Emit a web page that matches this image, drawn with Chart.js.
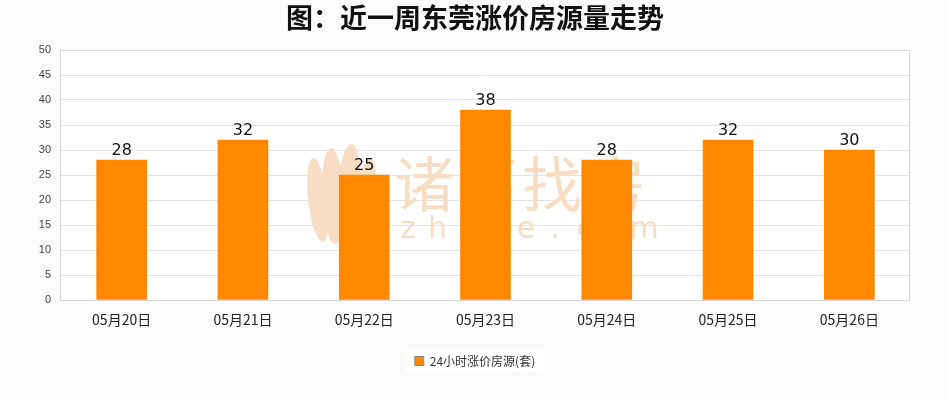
<!DOCTYPE html>
<html>
<head>
<meta charset="utf-8">
<script src="https://cdn.jsdelivr.net/npm/chart.js@4"></script>
<style>
  html, body { margin: 0; padding: 0; background: #fbfbfb; }
  #wrap { width: 950px; height: 400px; }
</style>
</head>
<body>
<div id="wrap"><canvas id="chart" width="950" height="400"></canvas></div>
<script>
const TITLE = '图：近一周东莞涨价房源量走势';
const SERIES_NAME = '24小时涨价房源(套)';
const categories = ['05月20日', '05月21日', '05月22日', '05月23日', '05月24日', '05月25日', '05月26日'];
const values = [28, 32, 25, 38, 28, 32, 30];
const yTicks = [0, 5, 10, 15, 20, 25, 30, 35, 40, 45, 50];

const CJK = '"Noto Sans CJK SC", "Noto Sans", sans-serif';
const MARK = 'rgb(249, 221, 195)';

// plot background, border, watermark and value labels
const plotFrame = {
  id: 'plotFrame',
  afterLayout(chart) {
    // centre legend and title on the whole canvas
    [chart.legend, chart.titleBlock].forEach(box => {
      const w = box.right - box.left;
      box.left = (chart.width - w) / 2;
      box.right = box.left + w;
    });
  },
  beforeDraw(chart) {
    const { ctx, chartArea: a } = chart;
    ctx.save();
    ctx.fillStyle = '#ffffff';
    ctx.fillRect(a.left, a.top, a.right - a.left, a.bottom - a.top);
    const lg = chart.legend;
    const cy = (lg.top + lg.bottom) / 2;
    ctx.fillRect(chart.width / 2 - 70, cy - 11, 140, 22);
    ctx.restore();
  },
  beforeDatasetsDraw(chart) {
    const { ctx } = chart;
    ctx.save();
    ctx.fillStyle = MARK;
    // logo leaves
    [[318, 200, 10, 42, -0.12], [333, 196, 11, 48, -0.04], [349, 194, 12, 50, 0.05], [364, 200, 10, 42, 0.16]]
      .forEach(([x, y, rx, ry, r]) => {
        ctx.beginPath();
        ctx.ellipse(x, y, rx, ry, r, 0, Math.PI * 2);
        ctx.fill();
      });
    ctx.textBaseline = 'middle';
    ctx.textAlign = 'center';
    ctx.font = '60px ' + CJK;
    '诸葛找房'.split('').forEach((c, i) => ctx.fillText(c, 424 + i * 64, 184));
    ctx.font = '30px "DejaVu Sans", sans-serif';
    'zhuge.com'.split('').forEach((c, i) => ctx.fillText(c, 408 + i * 29.5, 230));
    ctx.restore();
  },
  afterDatasetsDraw(chart) {
    const { ctx, chartArea: a } = chart;
    ctx.save();
    ctx.strokeStyle = '#d6d6d6';
    ctx.lineWidth = 1;
    ctx.strokeRect(Math.round(a.left) - 0.5, Math.round(a.top) + 0.5,
      Math.round(a.right - a.left), Math.round(a.bottom - a.top));
    const meta = chart.getDatasetMeta(0);
    ctx.fillStyle = '#111111';
    ctx.font = '16px "DejaVu Sans", sans-serif';
    ctx.textAlign = 'center';
    ctx.textBaseline = 'bottom';
    meta.data.forEach((bar, i) => {
      ctx.fillText(String(values[i]), bar.x, bar.y - 1);
    });
    ctx.restore();
  }
};

new Chart(document.getElementById('chart'), {
  type: 'bar',
  data: {
    labels: categories,
    datasets: [{
      label: SERIES_NAME,
      data: values,
      backgroundColor: '#ff8800',
      borderWidth: 0,
      barThickness: 50,
    }],
  },
  options: {
    responsive: false,
    animation: false,
    layout: { padding: { left: 0, right: 40, top: 0, bottom: 23 } },
    scales: {
      x: {
        grid: { display: false, drawTicks: false },
        border: { display: false },
        ticks: {
          color: '#222',
          padding: 11,
          font: { size: 14, family: CJK },
          maxRotation: 0,
        },
        afterFit: s => { s.height = 45; },
      },
      y: {
        min: 0,
        max: 50,
        afterBuildTicks: s => { s.ticks = yTicks.map(v => ({ value: v })); },
        grid: { color: '#e3e3e3', drawTicks: false },
        border: { display: false },
        ticks: {
          color: '#444',
          padding: 10,
          font: { size: 11, family: '"Liberation Sans", Arial, sans-serif' },
        },
        afterFit: s => { s.width = 61; },
      },
    },
    plugins: {
      title: {
        display: true,
        text: TITLE,
        color: '#111',
        font: { size: 27, weight: 'bold', family: CJK },
        padding: { top: 2, bottom: 15.6 },
      },
      legend: {
        position: 'bottom',
        labels: {
          color: '#333',
          boxWidth: 9,
          boxHeight: 9,
          padding: 10,
          font: { size: 12, family: CJK },
          generateLabels: chart => [{
            text: SERIES_NAME,
            fillStyle: '#ff8800',
            strokeStyle: '#888888',
            lineWidth: 1,
            fontColor: '#333',
            datasetIndex: 0,
          }],
        },
      },
      tooltip: { enabled: false },
    },
  },
  plugins: [plotFrame],
});
</script>
</body>
</html>
